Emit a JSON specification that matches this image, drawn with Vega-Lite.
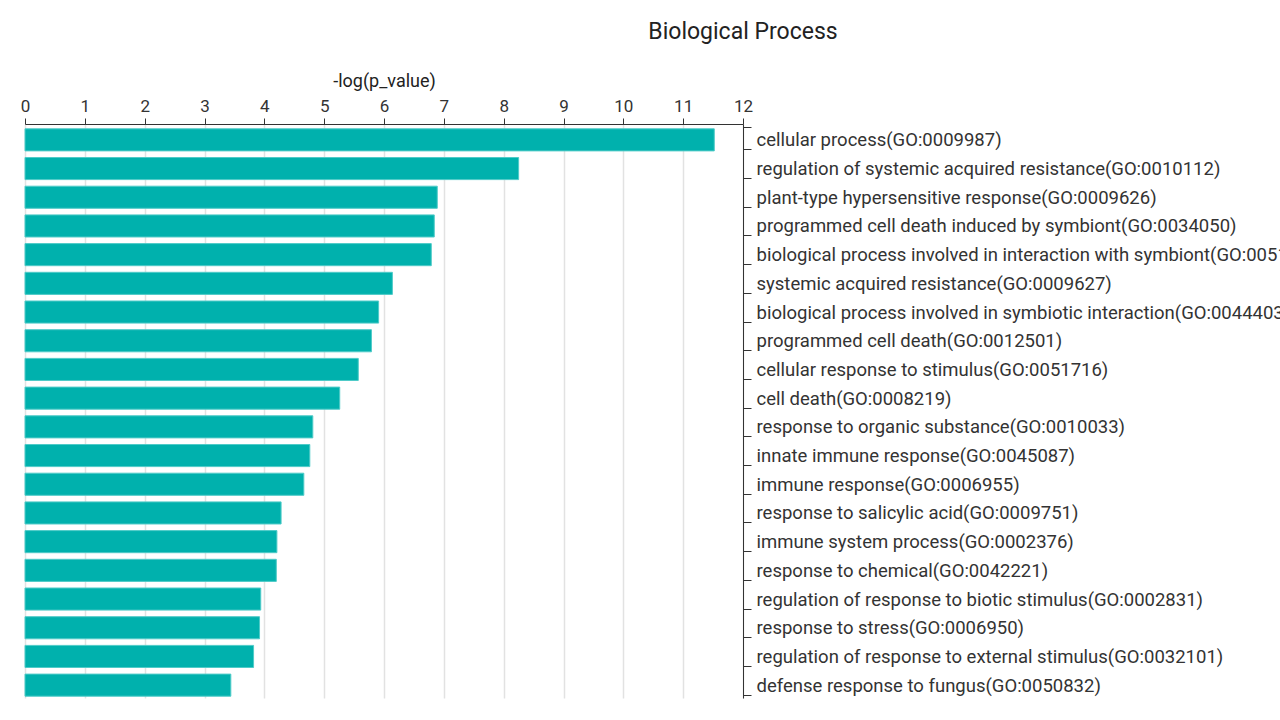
{
  "$schema": "https://vega.github.io/schema/vega-lite/v6.json",
  "autosize": {"type": "none"},
  "padding": {"left": 25, "top": 124, "right": 537, "bottom": 22},
  "width": 718,
  "height": 574,
  "background": "white",
  "title": {
    "text": "Biological Process",
    "anchor": "middle",
    "frame": "group",
    "dx": 359,
    "offset": 28,
    "fontSize": 23,
    "fontWeight": "normal",
    "font": "Roboto",
    "color": "#222222"
  },
  "data": {
    "values": [
      {"term": "cellular process(GO:0009987)", "value": 11.52},
      {"term": "regulation of systemic acquired resistance(GO:0010112)", "value": 8.25},
      {"term": "plant-type hypersensitive response(GO:0009626)", "value": 6.89},
      {"term": "programmed cell death induced by symbiont(GO:0034050)", "value": 6.84},
      {"term": "biological process involved in interaction with symbiont(GO:0051702)", "value": 6.79},
      {"term": "systemic acquired resistance(GO:0009627)", "value": 6.14},
      {"term": "biological process involved in symbiotic interaction(GO:0044403)", "value": 5.91},
      {"term": "programmed cell death(GO:0012501)", "value": 5.79},
      {"term": "cellular response to stimulus(GO:0051716)", "value": 5.57},
      {"term": "cell death(GO:0008219)", "value": 5.26},
      {"term": "response to organic substance(GO:0010033)", "value": 4.81},
      {"term": "innate immune response(GO:0045087)", "value": 4.76},
      {"term": "immune response(GO:0006955)", "value": 4.66},
      {"term": "response to salicylic acid(GO:0009751)", "value": 4.28},
      {"term": "immune system process(GO:0002376)", "value": 4.21},
      {"term": "response to chemical(GO:0042221)", "value": 4.2},
      {"term": "regulation of response to biotic stimulus(GO:0002831)", "value": 3.94},
      {"term": "response to stress(GO:0006950)", "value": 3.92},
      {"term": "regulation of response to external stimulus(GO:0032101)", "value": 3.82},
      {"term": "defense response to fungus(GO:0050832)", "value": 3.44}
    ]
  },
  "mark": {
    "type": "bar",
    "color": "#00b1ad",
    "stroke": "#4fcbc8",
    "strokeWidth": 1,
    "yOffset": 1.5
  },
  "encoding": {
    "x": {
      "field": "value",
      "type": "quantitative",
      "title": "-log(p_value)",
      "scale": {"domain": [0, 12], "nice": false},
      "axis": {
        "orient": "top",
        "values": [0, 1, 2, 3, 4, 5, 6, 7, 8, 9, 10, 11, 12],
        "labelOverlap": false,
        "labelFlush": false,
        "labelFontSize": 17,
        "titleBaseline": "middle",
        "titleY": -43
      }
    },
    "y": {
      "field": "term",
      "type": "nominal",
      "sort": null,
      "title": null,
      "scale": {"paddingInner": 0.23, "paddingOuter": 0.115},
      "axis": {
        "orient": "right",
        "tickBand": "extent",
        "tickSize": 8,
        "labelPadding": 5,
        "labelOffset": 1.5,
        "labelLimit": 0,
        "labelFontSize": 18.5,
        "grid": false
      }
    }
  },
  "config": {
    "font": "Roboto",
    "view": {"stroke": null},
    "axis": {
      "domainColor": "#333333",
      "tickColor": "#333333",
      "labelColor": "#333333",
      "titleColor": "#222222",
      "labelFont": "Roboto",
      "titleFont": "Roboto",
      "titleFontSize": 18,
      "titleFontWeight": "normal",
      "gridColor": "#e2e2e2",
      "gridWidth": 1.5,
      "tickSize": 6
    },
    "axisX": {"labelPadding": 3}
  }
}
